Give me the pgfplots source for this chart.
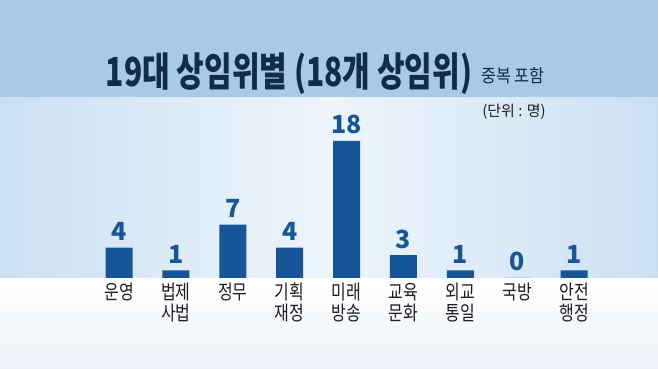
\documentclass[border=0pt]{standalone}
\usepackage{fontspec}
\usepackage{pgfplots}
\pgfplotsset{compat=1.18}
\newfontfamily\kr{Noto Sans CJK KR}
\definecolor{topband}{RGB}{168,202,230}
\definecolor{midedge}{RGB}{202,224,242}
\definecolor{midcenter}{RGB}{238,245,251}
\definecolor{barblue}{RGB}{22,86,152}
\definecolor{titlenavy}{RGB}{18,42,78}
\definecolor{labgray}{RGB}{30,30,35}
\begin{document}
\begin{tikzpicture}[x=1pt,y=1pt]
\useasboundingbox (0,0) rectangle (658,369);
% background
\shade[top color=white, bottom color={rgb,255:red,236;green,242;blue,248}] (0,0) rectangle (658,91);
\shade[left color=midedge, right color=midedge, middle color=midcenter] (0,91) rectangle (658,272);
\fill[topband] (0,272) rectangle (658,369);
% titles
\node[anchor=base, inner sep=0, xscale=0.75, text=titlenavy] at (289,282)
  {\kr\bfseries\fontsize{40}{40}\selectfont 19대 상임위별 (18개 상임위)};
\node[anchor=base west, inner sep=0, xscale=0.9, text=titlenavy] at (481,286)
  {\kr\fontsize{18}{18}\selectfont 중복 포함};
\node[anchor=base east, inner sep=0, text=labgray] at (546,252)
  {\kr\fontsize{15}{15}\selectfont (단위 : 명)};
\begin{axis}[
  at={(90.6pt,91pt)}, anchor=south west,
  scale only axis, width=512pt, height=137pt,
  xmin=-0.5, xmax=8.5, ymin=0, ymax=18,
  clip=false,
  axis line style={draw=none},
  major tick length=0pt,
  ytick=\empty,
  xtick=data,
  xticklabels={운영, {법제\\사법}, 정무, {기획\\재정}, {미래\\방송}, {교육\\문화}, {외교\\통일}, 국방, {안전\\행정}},
  xticklabel style={font=\kr\fontsize{20}{21}\selectfont, align=center, anchor=north, inner sep=0pt, yshift=-5pt, xscale=0.8, text=labgray},
  /pgf/number format/assume math mode=true,
  ybar, bar width=27pt,
  nodes near coords,
  nodes near coords style={font=\kr\bfseries\fontsize{25}{25}\selectfont, text=barblue, anchor=base, inner sep=0pt, yshift=7pt},
]
\addplot[fill=barblue, draw=none] coordinates {(0,4) (1,1) (2,7) (3,4) (4,18) (5,3) (6,1) (7,0) (8,1)};
\end{axis}
\end{tikzpicture}
\end{document}
